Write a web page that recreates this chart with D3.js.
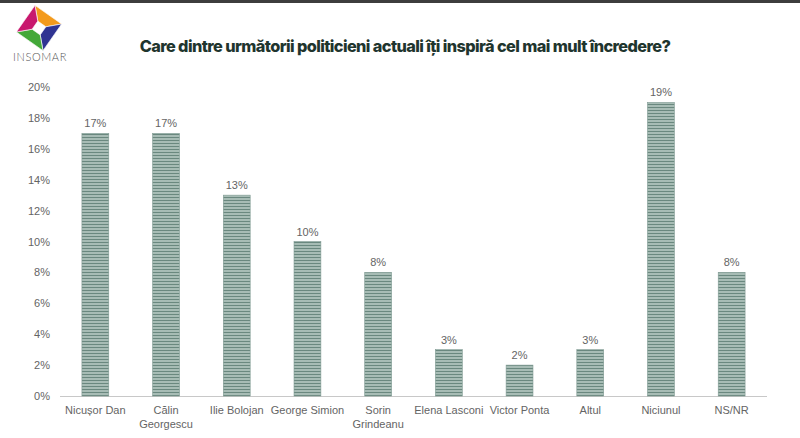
<!DOCTYPE html>
<html>
<head>
<meta charset="utf-8">
<script src="https://cdn.jsdelivr.net/npm/d3@7"></script>
<style>
  body { margin: 0; background: #fff; }
  svg { display: block; }
</style>
</head>
<body>
<div class="visHolder"></div>
<script>
var categories = ['Nicușor Dan', 'Călin Georgescu', 'Ilie Bolojan', 'George Simion', 'Sorin Grindeanu',
  'Elena Lasconi', 'Victor Ponta', 'Altul', 'Niciunul', 'NS/NR'];
var labelLines = [['Nicușor Dan'], ['Călin', 'Georgescu'], ['Ilie Bolojan'], ['George Simion'], ['Sorin', 'Grindeanu'],
  ['Elena Lasconi'], ['Victor Ponta'], ['Altul'], ['Niciunul'], ['NS/NR']];
var values = [17, 17, 13, 10, 8, 3, 2, 3, 19, 8];
var yTicks = [0, 2, 4, 6, 8, 10, 12, 14, 16, 18, 20];

var width = 800,
  height = 438;

var svg = d3
  .select('.visHolder')
  .append('svg')
  .attr('width', width)
  .attr('height', height);

// striped fill for the bars
var defs = svg.append('defs');
var pat = defs
  .append('pattern')
  .attr('id', 'stripes')
  .attr('patternUnits', 'userSpaceOnUse')
  .attr('width', 4)
  .attr('height', 3);
pat.append('rect').attr('width', 4).attr('height', 3).attr('fill', '#a7bcb5');
pat.append('rect').attr('y', 2).attr('width', 4).attr('height', 1).attr('fill', '#6a887f');

// top dark strip
svg.append('rect').attr('x', 0).attr('y', 0).attr('width', width).attr('height', 3).attr('fill', '#3d3d3d');

// logo: a diamond ring in four colours
var R = 23,
  r = 7;
var outer = [[0, -R], [R, 0], [0, R], [-R, 0]];
var inner = [[0, -r], [r, 0], [0, r], [-r, 0]];
var segColors = ['#f39a1c', '#2f3492', '#43a838', '#c8186e'];
var logo = svg.append('g').attr('transform', 'translate(39,28) rotate(-10)');
logo
  .selectAll('path')
  .data(segColors)
  .enter()
  .append('path')
  .attr('d', function (c, i) {
    var j = (i + 1) % 4;
    return 'M' + outer[i] + 'L' + outer[j] + 'L' + inner[j] + 'L' + inner[i] + 'Z';
  })
  .attr('fill', c => c)
  .attr('stroke', '#fff')
  .attr('stroke-width', 0.6);
svg
  .append('text')
  .attr('x', 40)
  .attr('y', 61)
  .attr('text-anchor', 'middle')
  .style('font-family', 'Lato, "Liberation Sans", sans-serif')
  .style('font-weight', 300)
  .style('font-size', '11px')
  .style('letter-spacing', '0.6px')
  .style('fill', '#555')
  .text('INSOMAR');

// title
svg
  .append('text')
  .attr('x', 405)
  .attr('y', 52)
  .attr('text-anchor', 'middle')
  .style('font-family', 'Inter, "Noto Sans", sans-serif')
  .style('font-weight', 800)
  .style('font-size', '16.3px')
  .style('letter-spacing', '-0.6px')
  .style('fill', '#1f352e')
  .text('Care dintre următorii politicieni actuali îți inspiră cel mai mult încredere?');

var x0 = 60,
  x1 = 767,
  yBase = 396,
  yTop = 87;

var xScale = d3.scaleBand().domain(categories).range([x0, x1]).paddingInner(0.62).paddingOuter(0.31);
var yScale = d3.scaleLinear().domain([0, 20]).range([yBase, yTop]);

var font = '"Liberation Sans", Arial, sans-serif';
var textColor = '#646464';

// y axis
var yAxis = d3
  .axisLeft(yScale)
  .tickValues(yTicks)
  .tickSize(0)
  .tickPadding(10)
  .tickFormat(d => d + '%');
var gy = svg.append('g').attr('transform', 'translate(' + x0 + ',0)').call(yAxis);
gy.select('.domain').remove();
gy.selectAll('text').style('font-family', font).style('font-size', '11px').style('fill', textColor);

// x axis
var xAxis = d3.axisBottom(xScale).tickSize(0).tickFormat('');
var gx = svg.append('g').attr('transform', 'translate(0,' + yBase + ')').call(xAxis);
gx.select('.domain').attr('stroke', '#c8c8c8').attr('d', 'M' + x0 + ',0.5H' + x1);

svg
  .append('g')
  .selectAll('text')
  .data(categories)
  .enter()
  .append('text')
  .attr('x', d => xScale(d) + xScale.bandwidth() / 2)
  .attr('y', 414)
  .attr('text-anchor', 'middle')
  .style('font-family', font)
  .style('font-size', '11px')
  .style('fill', textColor)
  .each(function (d, i) {
    var t = d3.select(this);
    labelLines[i].forEach(function (line, j) {
      t.append('tspan')
        .attr('x', xScale(d) + xScale.bandwidth() / 2)
        .attr('dy', j === 0 ? 0 : 14)
        .text(line);
    });
  });

// bars
svg
  .append('g')
  .selectAll('rect')
  .data(values)
  .enter()
  .append('rect')
  .attr('x', (d, i) => xScale(categories[i]))
  .attr('y', d => yScale(d))
  .attr('width', xScale.bandwidth())
  .attr('height', d => yBase - yScale(d))
  .attr('fill', 'url(#stripes)')
  .attr('stroke', '#7f9a92')
  .attr('stroke-width', 0.6);

// value labels
svg
  .append('g')
  .selectAll('text')
  .data(values)
  .enter()
  .append('text')
  .attr('x', (d, i) => xScale(categories[i]) + xScale.bandwidth() / 2)
  .attr('y', d => yScale(d) - 6)
  .attr('text-anchor', 'middle')
  .style('font-family', font)
  .style('font-size', '11px')
  .style('fill', textColor)
  .text(d => d + '%');
</script>
</body>
</html>
